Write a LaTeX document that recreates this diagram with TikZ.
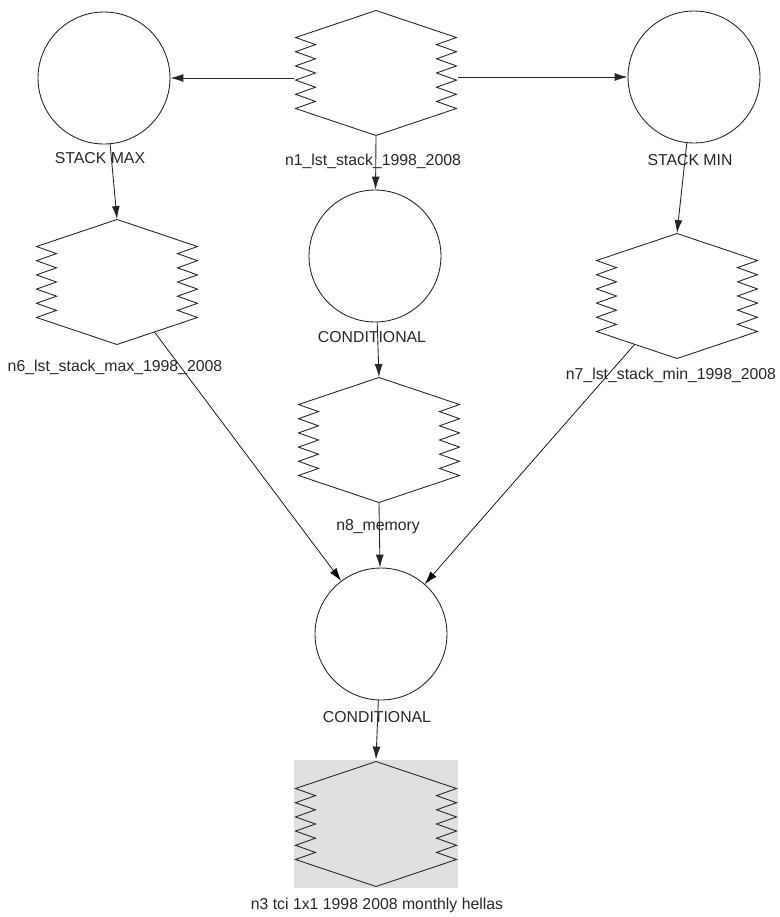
\documentclass[tikz,border=0pt]{standalone}
\usepackage{fontspec}
\setmainfont{Liberation Sans}
\usetikzlibrary{arrows.meta,backgrounds}

\tikzset{
  >={Latex[length=2.6mm,width=1.6mm]},
  cond/.style={draw, circle, minimum size=2.64cm, inner sep=0pt},
  hexa/.style={minimum width=3.26cm, minimum height=2.5cm, inner sep=0pt,
    path picture={
      \draw[x=0.02cm, y=-0.02cm, shift={(path picture bounding box.center)}, fill=#1]
        (0,-62.5) -- (80.5,-35.5)
        \foreach \i in {1,...,10}{ -- ({80.5-20*mod(\i,2)},{-35.5+7.1*\i}) }
        -- (0,62.5) -- (-80.5,35.5)
        \foreach \i in {1,...,10}{ -- ({-80.5+20*mod(\i,2)},{35.5-7.1*\i}) }
        -- cycle;
    }},
  hexa/.default=white,
  lbl/.style={font=\fontsize{9}{11}\selectfont, inner sep=0pt}
}

\begin{document}
\begin{tikzpicture}[x=0.02cm, y=-0.02cm, line width=0.5pt, black!85]
		\useasboundingbox (0,0) rectangle (780,917);
		% nodes
		\node (n1)[hexa] at(376,73) {};
		\node (cmax)[cond] at(104,78) {};
		\node (cmin)[cond] at(694,77) {};
		\node (c1)[cond] at(375,256) {};
		\node (n6)[hexa] at(117,282) {};
		\node (n7)[hexa] at(677,296) {};
		\node (n8)[hexa] at(379,440) {};
		\node (c2)[cond] at(381,634) {};
		\node (n3)[hexa=none, fill=black!12, minimum width=3.28cm, minimum height=2.56cm] at(376,824) {};
		% labels
		\node (l1)[lbl] at(373,161) {n1\_lst\_stack\_1998\_2008};
		\node (lmax)[lbl] at(100,158) {STACK MAX};
		\node (lmin)[lbl] at(690,160) {STACK MIN};
		\node (lc1)[lbl] at(372,337) {CONDITIONAL};
		\node (l6)[lbl] at(115,367) {n6\_lst\_stack\_max\_1998\_2008};
		\node (l7)[lbl] at(671,375) {n7\_lst\_stack\_min\_1998\_2008};
		\node (l8)[lbl] at(378,527) {n8\_memory};
		\node (lc2)[lbl] at(377,717) {CONDITIONAL};
		\node (l3)[lbl] at(377,905) {n3 tci 1x1 1998 2008 monthly hellas};
		% edges
		\draw [->](n1.west |- cmax)--(cmax);
		\draw [->](n1.east |- cmin)--(cmin);
		\draw [->](n1.south)--(c1);
		\draw [->](cmax)--(n6.north);
		\draw [->](cmin)--(n7.north);
		\draw [->](c1)--(n8.north);
		\draw [->](n8.south)--(c2);
		\draw [->](c2)--(n3.north);
		\begin{scope}[on background layer]
		\draw [->](n6.center)--(c2);
		\draw [->](n7.center)--(c2);
		\end{scope}
	\end{tikzpicture}
\end{document}
